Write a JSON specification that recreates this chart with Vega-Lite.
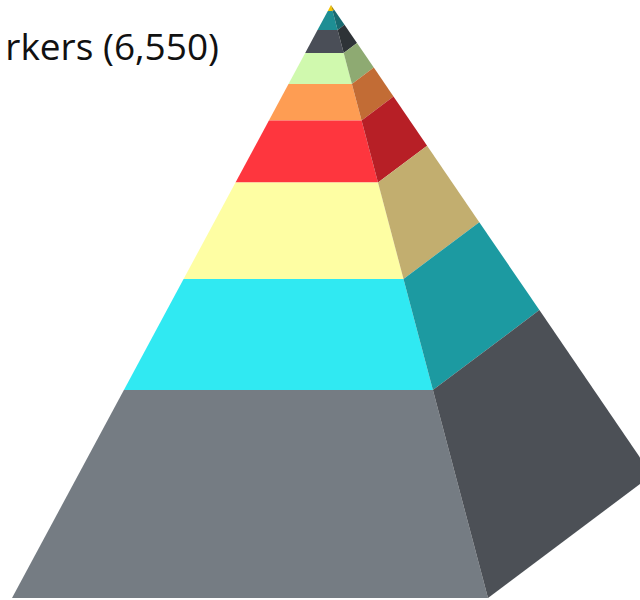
{
  "$schema": "https://vega.github.io/schema/vega-lite/v6.json",
  "width": 640,
  "height": 600,
  "padding": 0,
  "autosize": "none",
  "background": "white",
  "view": {"stroke": null},
  "datasets": {
    "faces": [
      {"piece":"t9 front","k":0,"x":331,"y":5},{"piece":"t9 front","k":1,"x":332.6,"y":11},{"piece":"t9 front","k":2,"x":327.8,"y":11},
      {"piece":"t9 side","k":0,"x":331,"y":5},{"piece":"t9 side","k":1,"x":334.2,"y":9.7},{"piece":"t9 side","k":2,"x":332.6,"y":11},
      {"piece":"t8 front","k":0,"x":327.8,"y":11},{"piece":"t8 front","k":1,"x":332.6,"y":11},{"piece":"t8 front","k":2,"x":337.6,"y":30},{"piece":"t8 front","k":3,"x":317.5,"y":30},
      {"piece":"t8 side","k":0,"x":332.6,"y":11},{"piece":"t8 side","k":1,"x":334.2,"y":9.7},{"piece":"t8 side","k":2,"x":344.5,"y":24.8},{"piece":"t8 side","k":3,"x":337.6,"y":30},
      {"piece":"t7 front","k":0,"x":317.5,"y":30},{"piece":"t7 front","k":1,"x":337.6,"y":30},{"piece":"t7 front","k":2,"x":343.7,"y":53},{"piece":"t7 front","k":3,"x":305.2,"y":53},
      {"piece":"t7 side","k":0,"x":337.6,"y":30},{"piece":"t7 side","k":1,"x":344.5,"y":24.8},{"piece":"t7 side","k":2,"x":357,"y":43},{"piece":"t7 side","k":3,"x":343.7,"y":53},
      {"piece":"t6 front","k":0,"x":305.2,"y":53},{"piece":"t6 front","k":1,"x":343.7,"y":53},{"piece":"t6 front","k":2,"x":351.9,"y":84},{"piece":"t6 front","k":3,"x":288.5,"y":84},
      {"piece":"t6 side","k":0,"x":343.7,"y":53},{"piece":"t6 side","k":1,"x":357,"y":43},{"piece":"t6 side","k":2,"x":373.8,"y":67.6},{"piece":"t6 side","k":3,"x":351.9,"y":84},
      {"piece":"t5 front","k":0,"x":288.5,"y":84},{"piece":"t5 front","k":1,"x":351.9,"y":84},{"piece":"t5 front","k":2,"x":361.6,"y":120.5},{"piece":"t5 front","k":3,"x":268.9,"y":120.5},
      {"piece":"t5 side","k":0,"x":351.9,"y":84},{"piece":"t5 side","k":1,"x":373.8,"y":67.6},{"piece":"t5 side","k":2,"x":393.5,"y":96.6},{"piece":"t5 side","k":3,"x":361.6,"y":120.5},
      {"piece":"t4 front","k":0,"x":268.9,"y":120.5},{"piece":"t4 front","k":1,"x":361.6,"y":120.5},{"piece":"t4 front","k":2,"x":378,"y":182.5},{"piece":"t4 front","k":3,"x":235.5,"y":182.5},
      {"piece":"t4 side","k":0,"x":361.6,"y":120.5},{"piece":"t4 side","k":1,"x":393.5,"y":96.6},{"piece":"t4 side","k":2,"x":427.1,"y":145.7},{"piece":"t4 side","k":3,"x":378,"y":182.5},
      {"piece":"t3 front","k":0,"x":235.5,"y":182.5},{"piece":"t3 front","k":1,"x":378,"y":182.5},{"piece":"t3 front","k":2,"x":403.5,"y":279},{"piece":"t3 front","k":3,"x":183.6,"y":279},
      {"piece":"t3 side","k":0,"x":378,"y":182.5},{"piece":"t3 side","k":1,"x":427.1,"y":145.7},{"piece":"t3 side","k":2,"x":479.3,"y":222.2},{"piece":"t3 side","k":3,"x":403.5,"y":279},
      {"piece":"t2 front","k":0,"x":183.6,"y":279},{"piece":"t2 front","k":1,"x":403.5,"y":279},{"piece":"t2 front","k":2,"x":432.9,"y":390},{"piece":"t2 front","k":3,"x":123.9,"y":390},
      {"piece":"t2 side","k":0,"x":403.5,"y":279},{"piece":"t2 side","k":1,"x":479.3,"y":222.2},{"piece":"t2 side","k":2,"x":539.4,"y":310.1},{"piece":"t2 side","k":3,"x":432.9,"y":390},
      {"piece":"t1 front","k":0,"x":123.9,"y":390},{"piece":"t1 front","k":1,"x":432.9,"y":390},{"piece":"t1 front","k":2,"x":488,"y":598},{"piece":"t1 front","k":3,"x":12,"y":598},
      {"piece":"t1 side","k":0,"x":432.9,"y":390},{"piece":"t1 side","k":1,"x":539.4,"y":310.1},{"piece":"t1 side","k":2,"x":652,"y":475},{"piece":"t1 side","k":3,"x":488,"y":598}
    ],
    "caption": [{"label":"rkers (6,550)","x":219,"y":60}]
  },
  "layer": [
    {
      "data": {"name": "faces"},
      "mark": {"type": "line", "filled": true, "clip": true, "strokeWidth": 0},
      "encoding": {
        "x": {"field": "x", "type": "quantitative", "scale": {"domain": [0, 640], "nice": false, "zero": false}, "axis": null},
        "y": {"field": "y", "type": "quantitative", "scale": {"domain": [600, 0], "nice": false, "zero": false}, "axis": null},
        "order": {"field": "k", "type": "ordinal"},
        "detail": {"field": "piece", "type": "nominal"},
        "fill": {
          "field": "piece",
          "type": "nominal",
          "legend": null,
          "scale": {
            "domain": ["t1 front","t1 side","t2 front","t2 side","t3 front","t3 side","t4 front","t4 side","t5 front","t5 side","t6 front","t6 side","t7 front","t7 side","t8 front","t8 side","t9 front","t9 side"],
            "range": ["#757C83","#4C5056","#30E9F2","#1C9AA1","#FEFEA3","#C2AE6F","#FE363E","#B71F26","#FE9D53","#C26C35","#D0F9AE","#8EAA72","#4A4E57","#2E3337","#1E8E94","#186A70","#F5C400","#B08C00"]
          }
        }
      }
    },
    {
      "data": {"name": "caption"},
      "mark": {"type": "text", "align": "right", "baseline": "alphabetic", "font": "Open Sans", "fontSize": 37, "color": "#111111"},
      "encoding": {
        "x": {"field": "x", "type": "quantitative", "scale": {"domain": [0, 640], "nice": false, "zero": false}, "axis": null},
        "y": {"field": "y", "type": "quantitative", "scale": {"domain": [600, 0], "nice": false, "zero": false}, "axis": null},
        "text": {"field": "label", "type": "nominal"}
      }
    }
  ]
}
